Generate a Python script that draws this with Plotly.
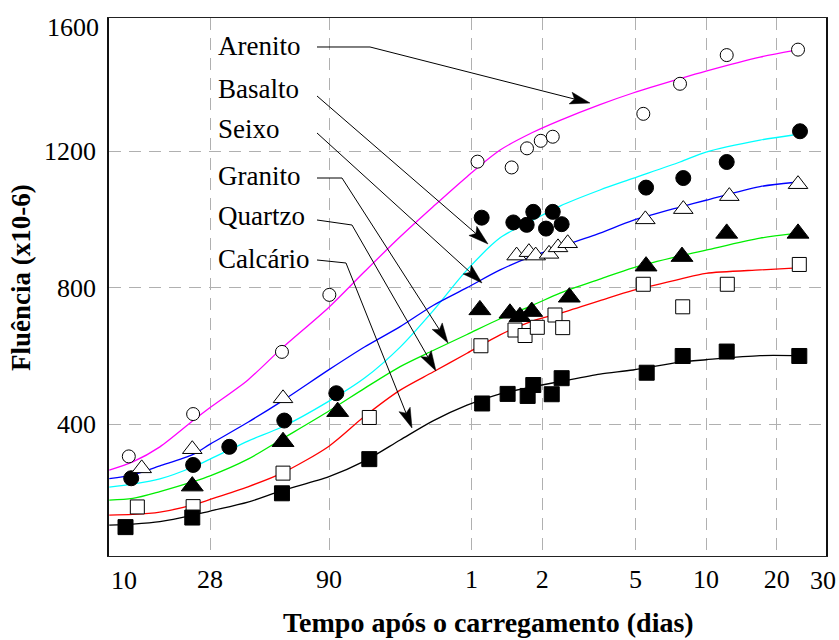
import math
import plotly.graph_objects as go

# ---------------- data (x in days after loading, y = creep x10-6) ----------------
curve_days = [10.4, 13.1, 17.1, 23.7, 28, 40.6, 56.7, 90, 128, 181, 250, 349, 483,
              667, 870, 1288, 1781, 2827, 3649, 6201, 8600]

arenito_curve = [266, 290, 334, 411, 449, 530, 623, 743, 848, 949, 1037, 1125, 1203,
                 1255, 1290, 1336, 1370, 1412, 1434, 1475, 1494]
basalto_curve = [216, 225, 240, 275, 298, 351, 392, 468, 536, 626, 732, 852, 946,
                 998, 1039, 1086, 1120, 1168, 1197, 1232, 1247]
seixo_curve = [241, 252, 278, 312, 342, 406, 468, 560, 627, 686, 748, 800, 852,
               893, 920, 960, 997, 1036, 1056, 1096, 1108]
granito_curve = [178, 183, 203, 232, 249, 298, 357, 439, 506, 569, 616, 663, 709,
                 749, 784, 825, 858, 893, 910, 945, 958]
quartzo_curve = [134, 136, 143, 164, 180, 217, 257, 336, 424, 500, 553, 608, 662,
                 703, 725, 762, 792, 825, 842, 852, 857]
calcario_curve = [105, 108, 115, 134, 146, 172, 206, 247, 293, 354, 410, 456, 489,
                  510, 525, 547, 559, 582, 589, 601, 601]

arenito_days = [12.6, 23.7, 56.7, 90.3, 387, 541, 629, 720, 810, 1971, 2826, 4471, 9006]
arenito_vals = [306, 430, 612, 779, 1169, 1152, 1208, 1230, 1242, 1309, 1397, 1481, 1497]

basalto_days = [12.9, 23.7, 33.8, 58.0, 96.7, 403, 550, 627, 669, 758, 810, 884,
                2025, 2919, 4471, 9183]
basalto_vals = [242, 281, 334, 411, 491, 1005, 991, 984, 1022, 973, 1022, 986,
                1093, 1121, 1168, 1258]

seixo_days = [14.3, 23.5, 57.3, 568, 641, 685, 781, 853, 938, 2011, 2919, 4587, 9006]
seixo_vals = [271, 327, 476, 894, 904, 894, 899, 918, 930, 1000, 1030, 1068, 1103]

granito_days = [23.5, 57.3, 98.0, 396, 532, 587, 659, 953, 2025, 2882, 4471, 9006]
granito_vals = [219, 349, 437, 735, 725, 715, 730, 772, 863, 891, 959, 959]

quartzo_days = [13.7, 23.7, 57.3, 133.7, 400, 559, 617, 696, 828, 893, 1971, 2902, 4497, 9120]
quartzo_vals = [158, 159, 257, 420, 630, 676, 660, 684, 720, 683, 810, 744, 810, 868]

calcario_days = [12.2, 23.5, 56.7, 133.7, 405, 520, 633, 669, 802, 884, 2038, 2902, 4471, 9120]
calcario_vals = [99, 127, 198, 298, 461, 489, 483, 515, 488, 535, 551, 600, 613, 600]

x_tick_vals = [28, 90, 365, 730, 1825, 3650, 7300]
x_tick_text = ["28", "90", "1", "2", "5", "10", "20"]
y_tick_vals = [400, 800, 1200]
y_tick_text = ["400", "800", "1200"]

series_names = ["Arenito", "Basalto", "Seixo", "Granito", "Quartzo", "Calcário"]

# ---------------- layout geometry ----------------
W, H = 839, 640
ML, MR, MT, MB = 109, 13, 18, 84
PW, PH = W - ML - MR, H - MT - MB


def pxx(x):
    return (x - ML) / PW


def pxy(y):
    return (H - MB - y) / PH


FONT = "Liberation Serif, Times New Roman, serif"

series = [
    dict(curve=arenito_curve, color="#ff00ff", d=arenito_days, v=arenito_vals,
         symbol="circle", size=13, fill="white"),
    dict(curve=basalto_curve, color="#00ffff", d=basalto_days, v=basalto_vals,
         symbol="circle", size=15, fill="black"),
    dict(curve=seixo_curve, color="#0000ff", d=seixo_days, v=seixo_vals,
         symbol="triangle-up", size=17, fill="white"),
    dict(curve=granito_curve, color="#00ee00", d=granito_days, v=granito_vals,
         symbol="triangle-up", size=19, fill="black"),
    dict(curve=quartzo_curve, color="#ff0000", d=quartzo_days, v=quartzo_vals,
         symbol="square", size=14, fill="white"),
    dict(curve=calcario_curve, color="#000000", d=calcario_days, v=calcario_vals,
         symbol="square", size=15, fill="black"),
]

fig = go.Figure()
for s in series:
    fig.add_trace(go.Scatter(x=curve_days, y=s["curve"], mode="lines",
                             line=dict(color=s["color"], width=1.3, shape="spline", smoothing=0.8),
                             hoverinfo="skip", showlegend=False))
for s, name in zip(series, series_names):
    fig.add_trace(go.Scatter(x=s["d"], y=s["v"], mode="markers", name=name,
                             marker=dict(symbol=s["symbol"], size=s["size"], color=s["fill"],
                                         line=dict(color="black", width=1)),
                             showlegend=False))

# labels + arrows (pixel geometry)
label_x = 216
label_y = [46, 89, 129, 176, 216, 259]
arrow_paths = [
    [(317, 47), (370, 47), (590, 103)],
    [(317, 96), (488, 244)],
    [(317, 133), (482, 283)],
    [(317, 178), (342, 178), (448, 343)],
    [(317, 220), (352, 225), (436, 371)],
    [(317, 260), (346, 263), (412, 428)],
]

annotations = []
shapes = []
for name, ly, path in zip(series_names, label_y, arrow_paths):
    annotations.append(dict(text=name, x=pxx(label_x), y=pxy(ly), xref="paper", yref="paper",
                            xanchor="left", yanchor="middle", showarrow=False,
                            font=dict(family=FONT, size=27, color="black")))
    (tx, ty), (ppx, ppy) = path[-1], path[-2]
    L, hw = 20.0, 6.0
    dx, dy = tx - ppx, ty - ppy
    n = math.hypot(dx, dy)
    ux, uy = dx / n, dy / n
    nx, ny = -uy, ux
    bx, by = tx - L * ux, ty - L * uy
    kx, ky = tx - (L - 4) * ux, ty - (L - 4) * uy
    pts = path[:-1] + [(kx, ky)]
    d = "M " + " L ".join(f"{pxx(x):.5f},{pxy(y):.5f}" for x, y in pts)
    shapes.append(dict(type="path", path=d, xref="paper", yref="paper",
                       line=dict(color="black", width=1)))
    head = [(tx, ty), (bx + hw * nx, by + hw * ny), (kx, ky), (bx - hw * nx, by - hw * ny)]
    dh = "M " + " L ".join(f"{pxx(x):.5f},{pxy(y):.5f}" for x, y in head) + " Z"
    shapes.append(dict(type="path", path=dh, xref="paper", yref="paper",
                       fillcolor="black", line=dict(color="black", width=0.5)))

# edge tick labels
annotations.append(dict(text="1600", x=pxx(101), y=pxy(27), xref="paper", yref="paper",
                        xanchor="right", yanchor="middle", showarrow=False,
                        font=dict(family=FONT, size=26, color="black")))
annotations.append(dict(text="10", x=pxx(123.5), y=pxy(580), xref="paper", yref="paper",
                        xanchor="center", yanchor="middle", showarrow=False,
                        font=dict(family=FONT, size=26, color="black")))
annotations.append(dict(text="30", x=pxx(823), y=pxy(580), xref="paper", yref="paper",
                        xanchor="center", yanchor="middle", showarrow=False,
                        font=dict(family=FONT, size=26, color="black")))
# axis titles
annotations.append(dict(text="<b>Tempo após o carregamento (dias)</b>", x=pxx(488.5), y=pxy(622),
                        xref="paper", yref="paper", xanchor="center", yanchor="middle",
                        showarrow=False, font=dict(family=FONT, size=28, color="black")))
annotations.append(dict(text="<b>Fluência (x10-6)</b>", x=pxx(21), y=pxy(278),
                        xref="paper", yref="paper", xanchor="center", yanchor="middle",
                        textangle=-90, showarrow=False,
                        font=dict(family=FONT, size=27, color="black")))

xr = [(ML + 129.2) / 234.47, (W - MR + 129.2) / 234.47]
fig.update_layout(
    width=W, height=H,
    margin=dict(l=ML, r=MR, t=MT, b=MB, pad=0),
    paper_bgcolor="white", plot_bgcolor="white",
    showlegend=False,
    annotations=annotations,
    shapes=shapes,
    font=dict(family=FONT, size=26, color="black"),
    xaxis=dict(type="log", range=xr, tickvals=x_tick_vals, ticktext=x_tick_text,
               showgrid=True, gridcolor="#b0b0b0", gridwidth=1.3, griddash="12px,8px",
               showline=True, linecolor="#222", linewidth=1.3, mirror=True,
               ticks="", zeroline=False, ticklabelstandoff=0,
               tickfont=dict(family=FONT, size=26, color="black")),
    yaxis=dict(range=[14.4, 1589.6], tickvals=y_tick_vals, ticktext=y_tick_text,
               showgrid=True, gridcolor="#b0b0b0", gridwidth=1.3, griddash="12px,8px",
               showline=True, linecolor="#111", linewidth=1.5, mirror=True,
               ticks="", zeroline=False, ticklabelstandoff=6,
               tickfont=dict(family=FONT, size=26, color="black")),
)

fig.write_html("out.html", config={"displayModeBar": False},
               post_script="document.body.style.margin='0';document.body.style.padding='0';")
